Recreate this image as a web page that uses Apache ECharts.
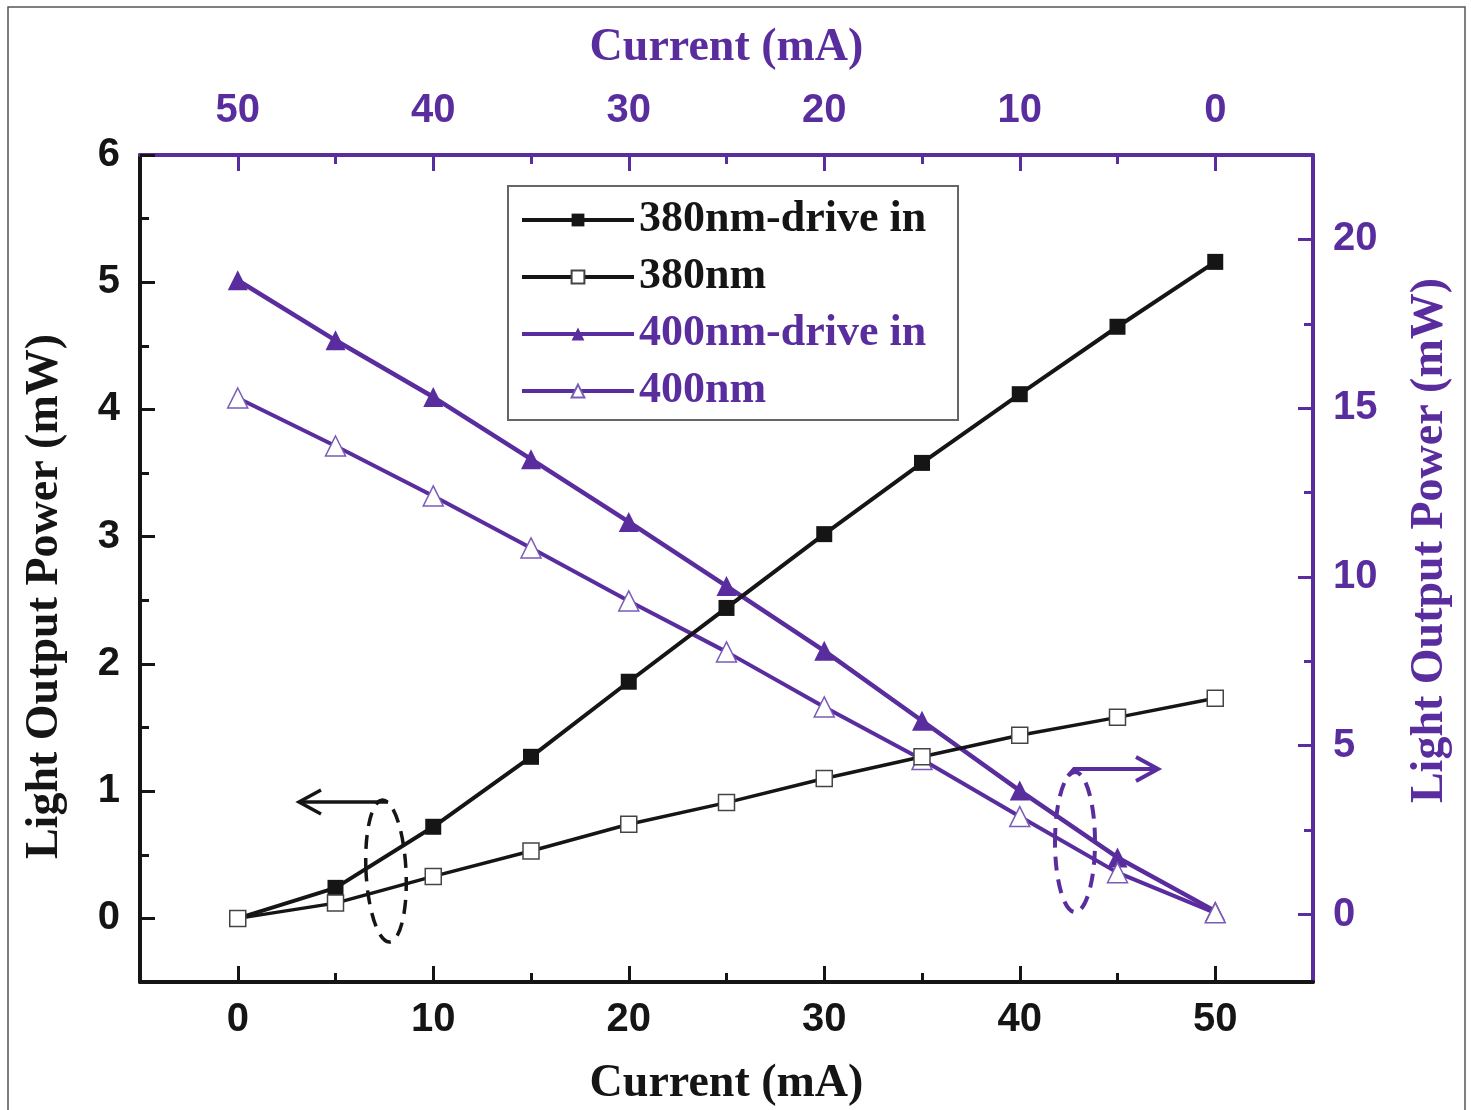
<!DOCTYPE html>
<html>
<head>
<meta charset="utf-8">
<script src="https://cdn.jsdelivr.net/npm/echarts@6/dist/echarts.min.js"></script>
<style>html,body{margin:0;padding:0;background:#fff}#c{width:1471px;height:1110px}</style>
</head>
<body>
<div id="c"></div>
<script>
// ---- data ----
const currents = [0, 5, 10, 15, 20, 25, 30, 35, 40, 45, 50];
const p380Drive = [0, 0.24, 0.72, 1.27, 1.86, 2.44, 3.02, 3.58, 4.12, 4.65, 5.16];
const p380 = [0, 0.12, 0.33, 0.53, 0.74, 0.91, 1.10, 1.27, 1.44, 1.58, 1.73];
const p400Drive = [0.1, 1.69, 3.67, 5.74, 7.81, 9.73, 11.63, 13.49, 15.33, 17.01, 18.79];
const p400 = [0.05, 1.24, 2.90, 4.59, 6.15, 7.78, 9.29, 10.86, 12.40, 13.88, 15.30];
const xMajor = [0, 10, 20, 30, 40, 50];
const xMinor = [5, 15, 25, 35, 45];
const yLeftMajor = [0, 1, 2, 3, 4, 5, 6];
const yLeftMinor = [0.5, 1.5, 2.5, 3.5, 4.5, 5.5];
const yRightMajor = [0, 5, 10, 15, 20];
const yRightMinor = [2.5, 7.5, 12.5, 17.5];
const names = ['380nm-drive in', '380nm', '400nm-drive in', '400nm'];

const BLACK = '#151515';
const PURPLE = '#5a2d9f';
const tickFont = { fontFamily: 'Liberation Sans', fontWeight: 'bold', fontSize: 40 };
const titleFont = { fontFamily: 'Liberation Serif', fontWeight: 'bold', fontSize: 46 };

function pairs(xs, ys) { return xs.map((x, i) => [x, ys[i]]); }

function mainX(pos, color, inverse, gap, margin) {
  return {
    type: 'value', position: pos, min: -5, max: 55, inverse: inverse,
    name: 'Current (mA)', nameLocation: 'middle', nameGap: gap,
    nameTextStyle: Object.assign({ color: color }, titleFont),
    axisLine: { show: true, onZero: false, lineStyle: { color: color, width: 4 } },
    axisTick: { show: true, inside: true, length: 16, customValues: xMajor, lineStyle: { color: color, width: 3 } },
    axisLabel: Object.assign({ show: true, customValues: xMajor, color: color, margin: margin }, tickFont),
    splitLine: { show: false }
  };
}
function minorX(pos, color, inverse) {
  return {
    type: 'value', position: pos, min: -5, max: 55, inverse: inverse,
    axisLine: { show: false, onZero: false },
    axisTick: { show: true, inside: true, length: 9, customValues: xMinor, lineStyle: { color: color, width: 3 } },
    axisLabel: { show: false }, splitLine: { show: false }
  };
}
function mainY(pos, color, min, max, major, gap, pad) {
  return {
    type: 'value', position: pos, min: min, max: max,
    name: 'Light Output Power (mW)', nameLocation: 'middle', nameGap: gap,
    nameTextStyle: Object.assign({ color: color, padding: pad }, titleFont),
    axisLine: { show: true, onZero: false, lineStyle: { color: color, width: 4 } },
    axisTick: { show: true, inside: true, length: 15, customValues: major, lineStyle: { color: color, width: 3 } },
    axisLabel: Object.assign({ show: true, customValues: major, color: color, margin: 20 }, tickFont),
    splitLine: { show: false }
  };
}
function minorY(pos, color, min, max, minor) {
  return {
    type: 'value', position: pos, min: min, max: max,
    axisLine: { show: false, onZero: false },
    axisTick: { show: true, inside: true, length: 9, customValues: minor, lineStyle: { color: color, width: 3 } },
    axisLabel: { show: false }, splitLine: { show: false }
  };
}

const chart = echarts.init(document.getElementById('c'), null, { renderer: 'canvas' });
const option = {
  backgroundColor: '#ffffff',
  animation: false,
  grid: { left: 140, right: 158, top: 155, bottom: 128, containLabel: false, outerBoundsMode: 'none' },
  xAxis: [
    mainX('bottom', BLACK, false, 79, 18),
    mainX('top', PURPLE, true, 84, 24),
    minorX('bottom', BLACK, false),
    minorX('top', PURPLE, true)
  ],
  yAxis: [
    mainY('left', BLACK, -0.5, 6, yLeftMajor, 72, [0, 56, 0, 0]),
    mainY('right', PURPLE, -2, 22.5, yRightMajor, 94, [0, 0, 0, 56]),
    minorY('left', BLACK, -0.5, 6, yLeftMinor),
    minorY('right', PURPLE, -2, 22.5, yRightMinor)
  ],
  legend: {
    orient: 'vertical', left: 520, top: 198, padding: 0,
    itemWidth: 112, itemHeight: 16, itemGap: 13,
    lineStyle: { width: 4 },
    textStyle: { fontFamily: 'Liberation Serif', fontWeight: 'bold', fontSize: 44, lineHeight: 44 },
    data: [
      { name: names[0], textStyle: { color: BLACK } },
      { name: names[1], textStyle: { color: BLACK } },
      { name: names[2], textStyle: { color: PURPLE } },
      { name: names[3], textStyle: { color: PURPLE } }
    ]
  },
  series: [
    {
      name: names[0], type: 'line', xAxisIndex: 0, yAxisIndex: 0,
      data: pairs(currents, p380Drive), symbol: 'rect', symbolSize: 16,
      lineStyle: { color: BLACK, width: 4 }, itemStyle: { color: BLACK }, z: 3
    },
    {
      name: names[1], type: 'line', xAxisIndex: 0, yAxisIndex: 0,
      data: pairs(currents, p380), symbol: 'rect', symbolSize: 16,
      lineStyle: { color: BLACK, width: 3.5 }, itemStyle: { color: '#ffffff', borderColor: '#444', borderWidth: 1.5 }, z: 3
    },
    {
      name: names[2], type: 'line', xAxisIndex: 1, yAxisIndex: 1,
      data: pairs(currents, p400Drive), symbol: 'triangle', symbolSize: 20,
      lineStyle: { color: PURPLE, width: 4.5 }, itemStyle: { color: PURPLE }, z: 2
    },
    {
      name: names[3], type: 'line', xAxisIndex: 1, yAxisIndex: 1,
      data: pairs(currents, p400), symbol: 'triangle', symbolSize: 20,
      lineStyle: { color: PURPLE, width: 4 }, itemStyle: { color: '#ffffff', borderColor: '#7a5cb8', borderWidth: 1.5 }, z: 2
    }
  ],
  graphic: [
    { type: 'rect', shape: { x: 8, y: 7, width: 1457, height: 1115 }, style: { fill: 'none', stroke: '#555', lineWidth: 1.5 }, silent: true },
    { type: 'rect', shape: { x: 508, y: 186, width: 450, height: 234 }, style: { fill: 'none', stroke: '#666', lineWidth: 2 }, silent: true },
    // left group marker (dashed ellipse + arrow to left axis)
    { type: 'ellipse', shape: { cx: 386, cy: 871, rx: 20, ry: 71 }, rotation: 0.05, originX: 386, originY: 871, style: { fill: 'none', stroke: BLACK, lineWidth: 3.5, lineDash: [14, 9] }, silent: true },
    { type: 'polyline', shape: { points: [[388, 802], [299, 802]] }, style: { fill: 'none', stroke: BLACK, lineWidth: 3.5 }, silent: true },
    { type: 'polyline', shape: { points: [[321, 790], [299, 802], [321, 814]] }, style: { fill: 'none', stroke: BLACK, lineWidth: 3.5 }, silent: true },
    // right group marker (dashed ellipse + arrow to right axis)
    { type: 'ellipse', shape: { cx: 1075, cy: 842, rx: 20, ry: 70 }, style: { fill: 'none', stroke: PURPLE, lineWidth: 4, lineDash: [14, 9] }, silent: true },
    { type: 'polyline', shape: { points: [[1068, 776], [1074, 769], [1158, 769]] }, style: { fill: 'none', stroke: PURPLE, lineWidth: 4 }, silent: true },
    { type: 'polyline', shape: { points: [[1136, 757], [1158, 769], [1136, 781]] }, style: { fill: 'none', stroke: PURPLE, lineWidth: 4 }, silent: true }
  ]
};
chart.setOption(option);
</script>
</body>
</html>
